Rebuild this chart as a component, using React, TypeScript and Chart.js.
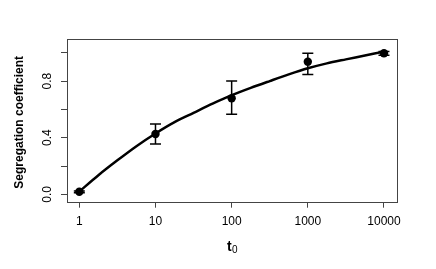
import { useEffect, useRef } from "react";
import { Chart, registerables } from "chart.js";

Chart.register(...registerables);

const tValues = [1, 10, 100, 1000, 10000];
const segMean = [0.018, 0.426, 0.678, 0.937, 0.996];
const segLow = [0.012, 0.355, 0.565, 0.847, 0.982];
const segHigh = [0.024, 0.496, 0.8, 0.996, 1.008];

const fitT = [
  1, 1.78, 3.16, 5.62, 10, 17.8, 31.6, 56.2, 100, 178, 316, 562, 1000, 1778, 3162, 5623, 10000,
];
const fitY = [
  0.02, 0.135, 0.24, 0.34, 0.43, 0.51, 0.575, 0.64, 0.7, 0.752, 0.8, 0.847, 0.89, 0.925, 0.953, 0.98,
  1.008,
];

const xTicks = [1, 10, 100, 1000, 10000];
const xTickLabels = ["1", "10", "100", "1000", "10000"];
const yTicks = [0, 0.2, 0.4, 0.6, 0.8, 1.0];
const yTickLabels = ["0.0", "", "0.4", "", "0.8", ""];

const xTitleMain = "t";
const xTitleSub = "0";
const yTitle = "Segregation coefficient";

const FONT = "'Liberation Sans', Arial, Helvetica, sans-serif";

const rPlot = {
  id: "rPlot",
  afterDraw(chart: any) {
    const ctx = chart.ctx as CanvasRenderingContext2D;
    const area = chart.chartArea;
    const xs = chart.scales.x;
    const ys = chart.scales.y;
    ctx.save();
    ctx.strokeStyle = "#444";
    ctx.lineWidth = 1;
    ctx.strokeRect(
      Math.round(area.left) + 0.5,
      Math.round(area.top) + 0.5,
      Math.round(area.right - area.left),
      Math.round(area.bottom - area.top)
    );
    ctx.strokeStyle = "#000";
    ctx.lineWidth = 1.5;
    const cap = 5.5;
    for (let i = 0; i < tValues.length; i++) {
      const px = xs.getPixelForValue(tValues[i]);
      const lo = ys.getPixelForValue(segLow[i]);
      const hi = ys.getPixelForValue(segHigh[i]);
      ctx.beginPath();
      ctx.moveTo(px, lo);
      ctx.lineTo(px, hi);
      ctx.moveTo(px - cap, lo);
      ctx.lineTo(px + cap, lo);
      ctx.moveTo(px - cap, hi);
      ctx.lineTo(px + cap, hi);
      ctx.stroke();
    }
    ctx.fillStyle = "#000";
    ctx.font = `12px ${FONT}`;
    ctx.textAlign = "center";
    ctx.textBaseline = "middle";
    for (let i = 0; i < yTicks.length; i++) {
      if (!yTickLabels[i]) continue;
      const py = ys.getPixelForValue(yTicks[i]);
      ctx.save();
      ctx.translate(47.5, py);
      ctx.rotate(-Math.PI / 2);
      ctx.fillText(yTickLabels[i], 0, 0);
      ctx.restore();
    }
    ctx.save();
    ctx.font = `bold 12px ${FONT}`;
    ctx.translate(19.5, (area.top + area.bottom) / 2 + 2);
    ctx.rotate(-Math.PI / 2);
    ctx.fillText(yTitle, 0, 0);
    ctx.restore();
    const cx = (area.left + area.right) / 2;
    ctx.textBaseline = "alphabetic";
    ctx.textAlign = "left";
    ctx.font = `bold 14px ${FONT}`;
    const wT = ctx.measureText(xTitleMain).width;
    ctx.font = `10px ${FONT}`;
    const wS = ctx.measureText(xTitleSub).width;
    const start = cx - (wT + wS) / 2;
    ctx.font = `bold 14px ${FONT}`;
    ctx.fillText(xTitleMain, start, 251);
    ctx.font = `10px ${FONT}`;
    ctx.fillText(xTitleSub, start + wT + 0.5, 253);
    ctx.restore();
  },
};

export default function App() {
  const ref = useRef<HTMLCanvasElement | null>(null);
  useEffect(() => {
    if (!ref.current) return;
    const chart = new Chart(ref.current, {
      type: "scatter",
      data: {
        datasets: [
          {
            data: fitT.map((t, i) => ({ x: t, y: fitY[i] })),
            showLine: true,
            borderColor: "#000",
            borderWidth: 2.5,
            pointRadius: 0,
            tension: 0.3,
          } as any,
          {
            data: tValues.map((t, i) => ({ x: t, y: segMean[i] })),
            showLine: false,
            pointRadius: 4.2,
            pointBackgroundColor: "#000",
            pointBorderColor: "#000",
            pointBorderWidth: 0,
          } as any,
        ],
      },
      options: {
        responsive: false,
        animation: false,
        devicePixelRatio: 1,
        layout: { padding: { top: 39, right: 39, left: 0, bottom: 0 } },
        plugins: { legend: { display: false }, tooltip: { enabled: false } },
        scales: {
          x: {
            type: "logarithmic",
            min: 0.689,
            max: 14825,
            afterBuildTicks: (s: any) => {
              s.ticks = xTicks.map((v) => ({ value: v }));
            },
            afterFit: (s: any) => {
              s.height = 67.3;
            },
            border: { display: false },
            grid: {
              drawOnChartArea: false,
              drawTicks: true,
              tickLength: 6,
              color: "#444",
              lineWidth: 1,
            },
            ticks: {
              autoSkip: false,
              maxRotation: 0,
              minRotation: 0,
              padding: 7,
              color: "#000",
              font: { family: FONT, size: 12 },
              callback: (v: any) => {
                const idx = xTicks.indexOf(Number(v));
                return idx >= 0 ? xTickLabels[idx] : "";
              },
            },
          },
          y: {
            type: "linear",
            min: -0.052,
            max: 1.097,
            afterBuildTicks: (s: any) => {
              s.ticks = yTicks.map((v) => ({ value: v }));
            },
            afterFit: (s: any) => {
              s.width = 67;
            },
            border: { display: false },
            grid: {
              drawOnChartArea: false,
              drawTicks: true,
              tickLength: 6,
              color: "#444",
              lineWidth: 1,
            },
            ticks: {
              color: "rgba(0,0,0,0)",
              font: { family: FONT, size: 12 },
            },
          },
        },
      },
      plugins: [rPlot],
    });
    return () => chart.destroy();
  }, []);
  return (
    <div style={{ position: "absolute", left: 0, top: 0, width: 436, height: 269, background: "#fff" }}>
      <canvas ref={ref} width={436} height={269} />
    </div>
  );
}
